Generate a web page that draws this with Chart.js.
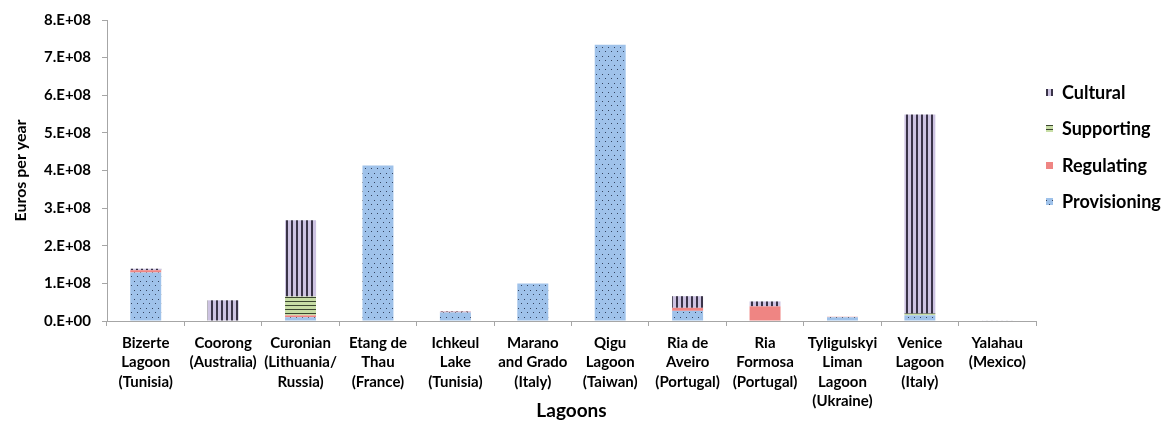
<!DOCTYPE html>
<html>
<head>
<meta charset="utf-8">
<script src="https://cdn.jsdelivr.net/npm/chart.js@4"></script>
<style>
  body { margin: 0; background: #fff; }
  canvas { display: block; }
</style>
</head>
<body>
<canvas id="myChart" width="1167" height="429"></canvas>
<script>
var lagoons = [
  ["Bizerte", "Lagoon", "(Tunisia)"],
  ["Coorong", "(Australia)"],
  ["Curonian", "(Lithuania/", "Russia)"],
  ["Etang de", "Thau", "(France)"],
  ["Ichkeul", "Lake", "(Tunisia)"],
  ["Marano", "and Grado", "(Italy)"],
  ["Qigu", "Lagoon", "(Taiwan)"],
  ["Ria de", "Aveiro", "(Portugal)"],
  ["Ria", "Formosa", "(Portugal)"],
  ["Tyligulskyi", "Liman", "Lagoon", "(Ukraine)"],
  ["Venice", "Lagoon", "(Italy)"],
  ["Yalahau", "(Mexico)"]
];

// euros per year
var provisioning = [1.29e8, 0, 1.0e7, 4.13e8, 2.3e7, 1.0e8, 7.34e8, 2.7e7, 0, 1.0e7, 1.5e7, 0];
var regulating   = [6e6, 0, 5e6, 0, 1.5e6, 0, 0, 8e6, 3.9e7, 1.2e6, 0, 0];
var supporting   = [0, 0, 5.0e7, 0, 0, 0, 0, 0, 0, 0, 5e6, 0];
var cultural     = [4e6, 5.5e7, 2.03e8, 0, 1.5e6, 0, 0, 3.1e7, 1.3e7, 0, 5.29e8, 1.5e6];

var yTicks = [0, 1e8, 2e8, 3e8, 4e8, 5e8, 6e8, 7e8, 8e8];

var FONT = "Lato, 'Open Sans', sans-serif";

function makePattern(w, h, draw) {
  var c = document.createElement("canvas");
  c.width = w;
  c.height = h;
  var g = c.getContext("2d");
  draw(g);
  return g.createPattern(c, "repeat");
}

var dotPattern = makePattern(6, 9, function(g) {
  g.fillStyle = "#9fc2ea";
  g.fillRect(0, 0, 6, 9);
  g.fillStyle = "#34435e";
  g.fillRect(2, 2, 1, 1);
  g.fillRect(5, 6, 1, 1);
});

var vertPattern = makePattern(5, 4, function(g) {
  g.fillStyle = "#cdc3e2";
  g.fillRect(0, 0, 5, 4);
  g.fillStyle = "#3a3448";
  g.fillRect(1, 0, 2, 4);
});

var horizPattern = makePattern(4, 4, function(g) {
  g.fillStyle = "#c8dea6";
  g.fillRect(0, 0, 4, 4);
  g.fillStyle = "#3b4630";
  g.fillRect(0, 1, 4, 1);
});

var legendPlugin = {
  id: "sideLegend",
  afterDraw: function(chart) {
    var ctx = chart.ctx;
    var ds = chart.data.datasets.slice().reverse();
    var ys = [93, 129, 166, 202];
    ctx.save();
    ctx.font = "bold 18px " + FONT;
    ctx.textBaseline = "middle";
    ctx.textAlign = "left";
    for (var i = 0; i < ds.length; i++) {
      ctx.fillStyle = ds[i].backgroundColor;
      ctx.fillRect(1046, ys[i] - 4, 7, 7);
      ctx.fillStyle = "#000";
      ctx.fillText(ds[i].label, 1062, ys[i]);
    }
    ctx.restore();
  }
};

window.onload = function() {
  var ctx = document.getElementById("myChart").getContext("2d");
  new Chart(ctx, {
    type: "bar",
    data: {
      labels: lagoons,
      datasets: [
        { label: "Provisioning", data: provisioning, backgroundColor: dotPattern },
        { label: "Regulating", data: regulating, backgroundColor: "#ef8583" },
        { label: "Supporting", data: supporting, backgroundColor: horizPattern },
        { label: "Cultural", data: cultural, backgroundColor: vertPattern }
      ]
    },
    options: {
      responsive: false,
      animation: false,
      layout: { padding: { top: 17, right: 131, left: 0, bottom: 0 } },
      datasets: { bar: { barPercentage: 0.4, categoryPercentage: 1.0 } },
      plugins: { legend: { display: false }, tooltip: { enabled: false } },
      scales: {
        x: {
          stacked: true,
          grid: { drawOnChartArea: false, offset: true, tickLength: 5, color: "#a6a6a6" },
          border: { color: "#a6a6a6" },
          ticks: {
            autoSkip: false,
            maxRotation: 0,
            minRotation: 0,
            padding: 7,
            color: "#000",
            font: { family: FONT, size: 15, weight: "bold", lineHeight: 1.3 }
          },
          title: {
            display: true,
            text: "Lagoons",
            color: "#000",
            padding: { top: 0, bottom: 7 },
            font: { family: FONT, size: 19, weight: "bold" }
          },
          afterFit: function(scale) { scale.height = 108; }
        },
        y: {
          stacked: true,
          min: 0,
          max: 8e8,
          afterBuildTicks: function(scale) {
            scale.ticks = yTicks.map(function(v) { return { value: v }; });
          },
          grid: { drawOnChartArea: false, tickLength: 5, color: "#a6a6a6" },
          border: { color: "#a6a6a6" },
          ticks: {
            padding: 11,
            color: "#000",
            font: { family: FONT, size: 15, weight: "bold" },
            callback: function(v) {
              return v === 0 ? "0.E+00" : (v / 1e8) + ".E+08";
            }
          },
          title: {
            display: true,
            text: "Euros per year",
            color: "#000",
            padding: { top: 11, bottom: 0 },
            font: { family: FONT, size: 16, weight: "bold" }
          },
          afterFit: function(scale) { scale.width = 107; }
        }
      }
    },
    plugins: [legendPlugin]
  });
};
</script>
</body>
</html>
